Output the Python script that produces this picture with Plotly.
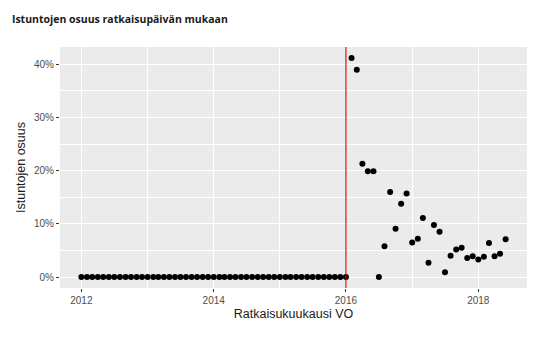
import plotly.graph_objects as go
import pandas as pd

title_text = "Istuntojen osuus ratkaisupäivän mukaan"
x_title = "Ratkaisukuukausi VO"
y_title = "Istuntojen osuus"

months = pd.date_range("2012-01-01", "2018-06-01", freq="MS")

# share of sessions (%) per decision month
share_pct = [
    0, 0, 0, 0, 0, 0, 0, 0, 0, 0, 0, 0,          # 2012
    0, 0, 0, 0, 0, 0, 0, 0, 0, 0, 0, 0,          # 2013
    0, 0, 0, 0, 0, 0, 0, 0, 0, 0, 0, 0,          # 2014
    0, 0, 0, 0, 0, 0, 0, 0, 0, 0, 0, 0,          # 2015
    0, 41.2, 39.0, 21.3, 19.9, 19.9, 0, 5.8, 16.0, 9.1, 13.8, 15.7,   # 2016
    6.5, 7.2, 11.1, 2.7, 9.8, 8.5, 0.9, 4.0, 5.2, 5.5, 3.6, 3.9,      # 2017
    3.3, 3.8, 6.4, 3.9, 4.4, 7.1,                                     # 2018
]

vline_date = "2016-01-01"
y_ticks = [0, 10, 20, 30, 40]
y_tick_labels = ["0%", "10%", "20%", "30%", "40%"]
x_ticks = ["2012-01-01", "2014-01-01", "2016-01-01", "2018-01-01"]
x_tick_labels = ["2012", "2014", "2016", "2018"]

fig = go.Figure()
fig.add_trace(go.Scatter(
    x=months, y=share_pct, mode="markers",
    marker=dict(color="black", size=6),
    showlegend=False,
))

fig.add_shape(type="line", xref="x", yref="paper",
              x0=vline_date, x1=vline_date, y0=0, y1=1,
              line=dict(color="#CC0000", width=1.1), layer="above")

xmin = pd.Timestamp("2011-09-05")
xmax = pd.Timestamp("2018-09-27")

fig.update_layout(
    width=542, height=340,
    margin=dict(l=60, r=15, t=47, b=52),
    paper_bgcolor="white",
    plot_bgcolor="#EBEBEB",
    title=dict(text="<b>" + title_text + "</b>", x=0.022, xanchor="left",
               y=0.944, yanchor="middle",
               font=dict(family="Open Sans", size=10.5, color="#1a1a1a")),
    font=dict(family="Liberation Sans, Arial", color="#4D4D4D", size=10),
)

fig.update_xaxes(
    range=[xmin, xmax],
    tickvals=x_ticks, ticktext=x_tick_labels,
    ticks="outside", ticklen=3, tickcolor="#333333", tickwidth=1,
    tickfont=dict(size=10, color="#4D4D4D"),
    showgrid=True, gridcolor="white", gridwidth=1.1,
    minor=dict(tickvals=["2013-01-01", "2015-01-01", "2017-01-01"],
               showgrid=True, gridcolor="white", gridwidth=0.55, ticks=""),
    zeroline=False, showline=False,
    title=dict(text=x_title, font=dict(size=12.5, color="#1a1a1a"), standoff=4),
)
fig.update_yaxes(
    range=[-2.06, 43.26],
    tickvals=y_ticks, ticktext=y_tick_labels,
    ticks="outside", ticklen=3, tickcolor="#333333", tickwidth=1,
    tickfont=dict(size=10, color="#4D4D4D"),
    showgrid=True, gridcolor="white", gridwidth=1.1,
    minor=dict(tickvals=[5, 15, 25, 35], showgrid=True, gridcolor="white",
               gridwidth=0.55, ticks=""),
    zeroline=False, showline=False,
    title=dict(text=y_title, font=dict(size=12.5, color="#1a1a1a"), standoff=5),
)

fig.write_html("out.html")
